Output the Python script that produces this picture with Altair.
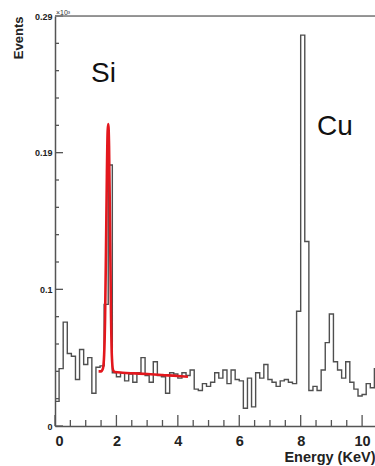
import altair as alt
import pandas as pd

# Energy spectrum: counts per bin (bin width 2/15 keV, starting at 0 keV)
bin_width = 2.0 / 15.0
bin_counts = [
    18, 42, 76, 53, 51, 34, 56, 45, 50, 24,
    43, 44, 89, 191, 39, 36, 39, 33, 38, 32,
    39, 50, 37, 32, 47, 37, 36, 24, 39, 38,
    35, 39, 37, 41, 27, 26, 31, 29, 32, 39,
    35, 41, 31, 41, 34, 33, 13, 35, 14, 39,
    35, 45, 34, 32, 29, 33, 34, 32, 31, 84,
    286, 135, 26, 29, 26, 41, 61, 82, 47, 41,
    35, 47, 32, 27, 22, 23, 31, 28, 42,
]

# Si K-alpha fit (peak plus linear background)
fit_energy = [1.42, 1.50, 1.56, 1.60, 1.63, 1.66, 1.69, 1.715, 1.735, 1.76,
              1.79, 1.82, 1.85, 1.89, 1.95, 2.2, 2.6, 3.0, 3.5, 4.0, 4.33]
fit_counts = [40, 40, 42, 52, 78, 128, 185, 216, 221, 205,
              150, 88, 52, 41, 39.5, 39, 38.5, 38, 37.3, 36.6, 36]

# Axis ticks and labels (counts shown in units of 10^3)
y_major = [0, 100, 200, 300]
y_labels = ["0", "0.1", "0.19", "0.29"]
y_minor = [v for v in range(0, 301, 20) if v % 100 != 0]
x_major = [0, 2, 4, 6, 8, 10]
x_minor = [v / 2 for v in range(0, 21) if v % 4 != 0]

x_domain = [0, 10.42]
y_domain = [0, 300]
W, H = 320, 410
AXIS = "#555555"
FONT = "Liberation Sans"

# histogram outline as step line
hx = [0.0] + [k * bin_width for k in range(len(bin_counts))] + [len(bin_counts) * bin_width]
hy = [0] + bin_counts + [bin_counts[-1]]
hist_df = pd.DataFrame({"E": hx, "N": hy, "i": range(len(hx))})
fit_df = pd.DataFrame({"E": fit_energy, "N": fit_counts, "i": range(len(fit_energy))})

xs = alt.Scale(domain=x_domain, nice=False, zero=False)
ys = alt.Scale(domain=y_domain, nice=False, zero=False)

label_expr = " : ".join(
    f"datum.value == {v} ? '{t}'" for v, t in zip(y_major, y_labels)
) + " : ''"

x_axis = alt.Axis(
    values=x_major, format="d", tickSize=0, labelPadding=8,
    labelFont=FONT, labelFontWeight="bold", labelFontSize=14.5, labelColor="#222",
    title="Energy (KeV)", titleFont=FONT, titleFontWeight="bold", titleFontSize=14.5,
    titleColor="#222", titleAnchor="end", titleAlign="right", titleBaseline="alphabetic",
    titleX=W, titleY=35, grid=False, domainColor=AXIS, domainWidth=1.5,
)
y_axis = alt.Axis(
    values=y_major, labelExpr=label_expr, tickSize=0, labelPadding=3,
    labelFont=FONT, labelFontWeight="bold", labelFontSize=9, labelColor="#222",
    labelOverlap=False, labelFlush=False, labelBaseline="middle",
    title="Events", titleFont=FONT, titleFontWeight="bold", titleFontSize=13,
    titleColor="#222", titleAngle=270, titleAlign="right", titleBaseline="bottom",
    titleX=-30, titleY=0, grid=False, domainColor=AXIS, domainWidth=1.5,
)

hist = alt.Chart(hist_df).mark_line(
    interpolate="step-after", color="#4f4f4f", strokeWidth=1.4, clip=True
).encode(
    x=alt.X("E:Q", scale=xs, axis=x_axis),
    y=alt.Y("N:Q", scale=ys, axis=y_axis),
    order="i:Q",
)

fit = alt.Chart(fit_df).mark_line(
    interpolate="monotone", color="#e3171d", strokeWidth=2.6, clip=True
).encode(
    x=alt.X("E:Q", scale=xs, axis=x_axis),
    y=alt.Y("N:Q", scale=ys, axis=y_axis),
    order="i:Q",
)

def yticks(vals, length):
    return alt.Chart(pd.DataFrame({"N": vals})).mark_rule(color=AXIS, strokeWidth=1.3).encode(
        y=alt.Y("N:Q", scale=ys, axis=y_axis), x=alt.value(0), x2=alt.value(length)
    )

def xticks(vals, length):
    return alt.Chart(pd.DataFrame({"E": vals})).mark_rule(color=AXIS, strokeWidth=1.3).encode(
        x=alt.X("E:Q", scale=xs, axis=x_axis), y=alt.value(H), y2=alt.value(H - length)
    )

top_line = alt.Chart(pd.DataFrame({"a": [0]})).mark_rule(color="#777777", strokeWidth=1.5).encode(
    x=alt.value(0), x2=alt.value(W), y=alt.value(0)
)

peaks = pd.DataFrame({"t": ["Si", "Cu"], "px": [36, 262], "py": [66, 119]})
peak_text = alt.Chart(peaks).mark_text(
    font=FONT, fontSize=28, align="left", baseline="alphabetic", color="#111"
).encode(x=alt.X("px:Q", scale=None), y=alt.Y("py:Q", scale=None), text="t:N")

exp_text = alt.Chart(pd.DataFrame({"t": ["×10³"]})).mark_text(
    font=FONT, fontSize=7, align="left", baseline="middle", color="#333"
).encode(x=alt.value(1), y=alt.value(-3), text="t:N")

chart = alt.layer(
    hist, fit,
    yticks(y_major, 8), yticks(y_minor, 4),
    xticks(x_major, 11), xticks(x_minor, 6),
    top_line, peak_text, exp_text,
).properties(
    width=W, height=H,
    autosize=alt.AutoSizeParams(type="none"),
    padding={"left": 55, "top": 16, "right": 0, "bottom": 40},
).configure_view(stroke=None).configure(background="white")

chart.save("out.html", embed_options={"renderer": "svg", "actions": False})
